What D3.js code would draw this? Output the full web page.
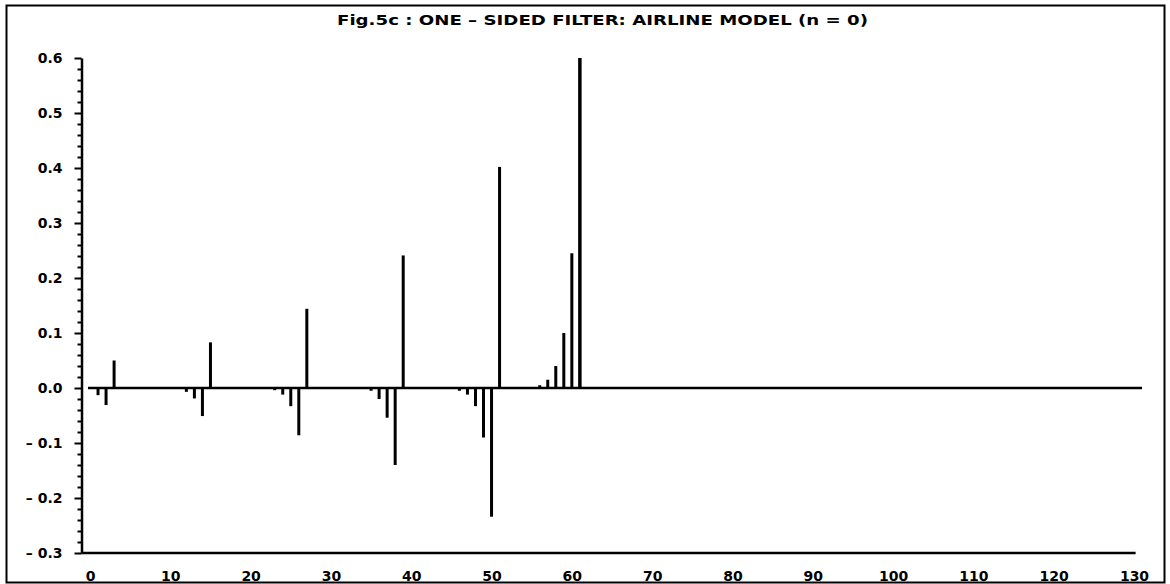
<!DOCTYPE html>
<html>
<head>
<meta charset="utf-8">
<script src="https://cdn.jsdelivr.net/npm/d3@7"></script>
<style>
  html, body { margin: 0; padding: 0; background: #fff; }
  svg { display: block; }
  text { font-family: "DejaVu Sans", sans-serif; font-weight: bold; fill: #000; }
</style>
</head>
<body>
<svg id="chart" width="1170" height="584"></svg>
<script>
// ---- data ----
const titleText = "Fig.5c : ONE \u2013 SIDED FILTER: AIRLINE MODEL (n = 0)";
const lags = [1, 2, 3, 12, 13, 14, 15, 23, 24, 25, 26, 27, 35, 36, 37, 38, 39,
              46, 47, 48, 49, 50, 51, 56, 57, 58, 59, 60, 61];
const weights = [-0.013, -0.031, 0.05, -0.007, -0.019, -0.051, 0.083,
                 -0.004, -0.012, -0.033, -0.086, 0.144,
                 -0.005, -0.02, -0.054, -0.14, 0.241,
                 -0.005, -0.012, -0.033, -0.09, -0.234, 0.402,
                 0.005, 0.015, 0.04, 0.1, 0.245, 0.6];
const yTicks = [-0.3, -0.2, -0.1, 0.0, 0.1, 0.2, 0.3, 0.4, 0.5, 0.6];
const yTickLabels = ["\u2013 0.3", "\u2013 0.2", "\u2013 0.1", "0.0", "0.1", "0.2", "0.3", "0.4", "0.5", "0.6"];
const xTicks = [0, 10, 20, 30, 40, 50, 60, 70, 80, 90, 100, 110, 120, 130];
const xDomain = [0, 130];
const yDomain = [-0.3, 0.6];

// ---- layout ----
const svg = d3.select("#chart");
const x = d3.scaleLinear().domain(xDomain).range([90, 1134]);
const y = d3.scaleLinear().domain(yDomain).range([553, 58]);
const axisX = 81.5;

// frame
svg.append("rect")
  .attr("x", 6.5).attr("y", 5.5).attr("width", 1158).attr("height", 577)
  .attr("fill", "none").attr("stroke", "#000").attr("stroke-width", 2);

// title
svg.append("text")
  .attr("x", 337).attr("y", 25)
  .attr("font-size", 14)
  .attr("textLength", 531).attr("lengthAdjust", "spacingAndGlyphs")
  .text(titleText);

// y axis (major)
const yAxis = d3.axisLeft(y).tickValues(yTicks)
  .tickFormat((d, i) => yTickLabels[i]).tickSize(7).tickSizeOuter(0).tickPadding(12);
const gy = svg.append("g").attr("transform", `translate(${axisX},0)`).call(yAxis);
gy.select(".domain").attr("stroke-width", 2.5);
gy.selectAll(".tick line").attr("stroke-width", 2);
gy.selectAll(".tick text").attr("font-size", 14).attr("font-family", "DejaVu Sans").attr("font-weight", "bold");

// y axis minor ticks
const minor = d3.range(-0.28, 0.6, 0.02).filter(v => Math.abs(Math.round(v * 10) - v * 10) > 1e-6);
const yMinor = d3.axisLeft(y).tickValues(minor).tickFormat("").tickSize(4).tickSizeOuter(0);
const gym = svg.append("g").attr("transform", `translate(${axisX},0)`).call(yMinor);
gym.select(".domain").remove();
gym.selectAll(".tick line").attr("stroke-width", 2);

// x axis
const xAxis = d3.axisBottom(x).tickValues(xTicks).tickFormat(d3.format("d")).tickSize(0).tickPadding(18);
const gx = svg.append("g").attr("transform", `translate(0,${y(-0.3)})`).call(xAxis);
gx.select(".domain").remove();
gx.selectAll(".tick text").attr("font-size", 14).attr("font-family", "DejaVu Sans").attr("font-weight", "bold");
svg.append("line")
  .attr("x1", axisX).attr("x2", x(130.2))
  .attr("y1", y(-0.3)).attr("y2", y(-0.3))
  .attr("stroke", "#000").attr("stroke-width", 2.5);

// zero baseline
svg.append("line")
  .attr("x1", x(-0.25)).attr("x2", x(131))
  .attr("y1", y(0)).attr("y2", y(0))
  .attr("stroke", "#000").attr("stroke-width", 2.5);

// bars (spikes)
svg.append("g").selectAll("line")
  .data(lags.map((l, i) => ({ lag: l, w: weights[i] })))
  .join("line")
  .attr("x1", d => x(d.lag)).attr("x2", d => x(d.lag))
  .attr("y1", y(0)).attr("y2", d => y(d.w))
  .attr("stroke", "#000")
  .attr("stroke-width", d => Math.abs(d.w) > 0.5 ? 3.5 : 3);
</script>
</body>
</html>
